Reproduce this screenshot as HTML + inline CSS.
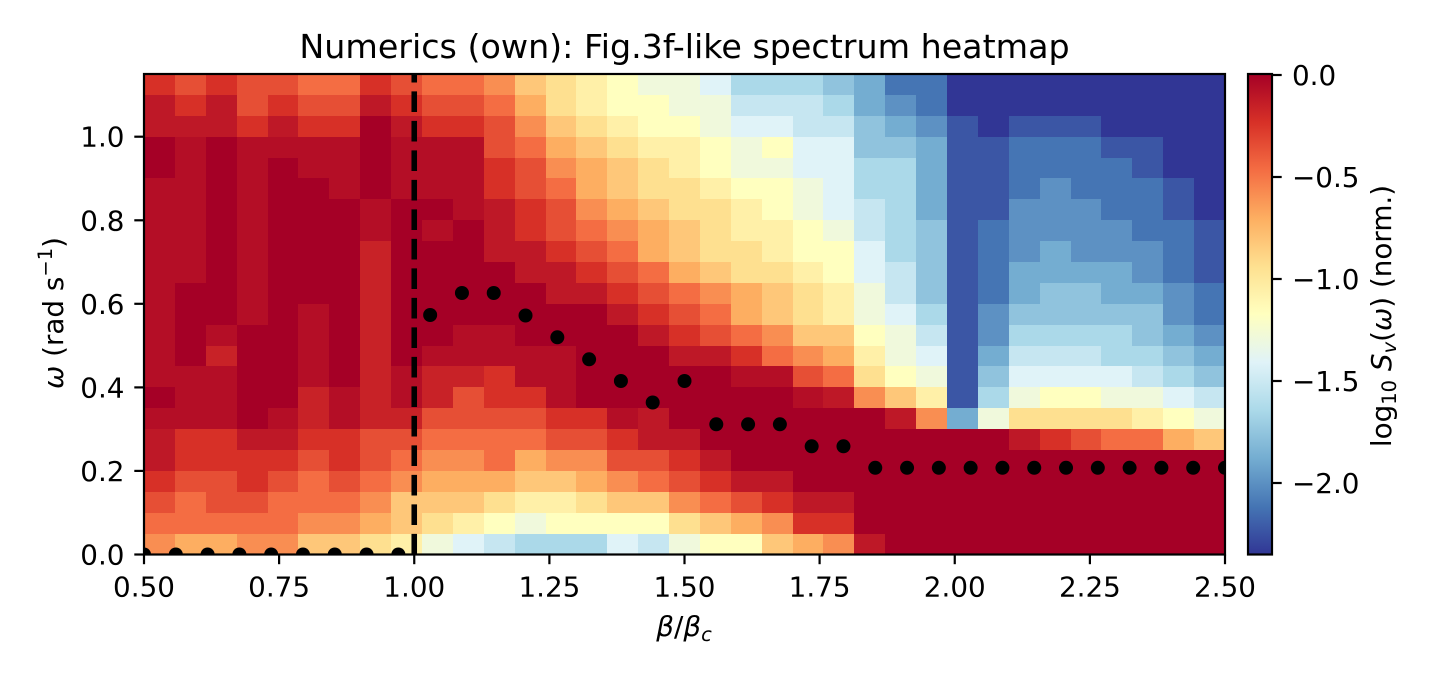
<!DOCTYPE html>
<html><head><meta charset="utf-8">
<style>
html,body{margin:0;padding:0;background:#fff;}
svg{display:block;}
text{font-family:"DejaVu Sans","Liberation Sans",sans-serif;fill:#000;}
</style></head>
<body>
<svg id="s" width="1440" height="680" viewBox="0 0 1440 680" xmlns="http://www.w3.org/2000/svg">
<defs>
<linearGradient id="cb" x1="0" y1="1" x2="0" y2="0">
<stop offset="0" stop-color="#313695"/>
<stop offset="0.1" stop-color="#4575b4"/>
<stop offset="0.2" stop-color="#74add1"/>
<stop offset="0.3" stop-color="#abd9e9"/>
<stop offset="0.4" stop-color="#e0f3f8"/>
<stop offset="0.5" stop-color="#ffffbf"/>
<stop offset="0.6" stop-color="#fee090"/>
<stop offset="0.7" stop-color="#fdae61"/>
<stop offset="0.8" stop-color="#f46d43"/>
<stop offset="0.9" stop-color="#d73027"/>
<stop offset="1" stop-color="#a50026"/>
</linearGradient>
<clipPath id="ax"><rect x="144" y="74" width="1081" height="480.5"/></clipPath>
</defs>
<rect x="0" y="0" width="1440" height="680" fill="#fff"/>
<g id="hm" shape-rendering="crispEdges"></g>
<line x1="414.25" y1="554.5" x2="414.25" y2="74" stroke="#000" stroke-width="5.56" stroke-dasharray="20.6 8.9"/>
<g id="dots" clip-path="url(#ax)"></g>
<rect x="144" y="74" width="1081" height="480.5" fill="none" stroke="#000" stroke-width="2.2"/>

<g stroke="#000" stroke-width="2.2">
<line x1="144" y1="554.5" x2="144" y2="564.2"/>
<line x1="279.1" y1="554.5" x2="279.1" y2="564.2"/>
<line x1="414.25" y1="554.5" x2="414.25" y2="564.2"/>
<line x1="549.4" y1="554.5" x2="549.4" y2="564.2"/>
<line x1="684.5" y1="554.5" x2="684.5" y2="564.2"/>
<line x1="819.6" y1="554.5" x2="819.6" y2="564.2"/>
<line x1="954.75" y1="554.5" x2="954.75" y2="564.2"/>
<line x1="1089.9" y1="554.5" x2="1089.9" y2="564.2"/>
<line x1="1225" y1="554.5" x2="1225" y2="564.2"/>
<line x1="134.3" y1="554.5" x2="144" y2="554.5"/>
<line x1="134.3" y1="470.9" x2="144" y2="470.9"/>
<line x1="134.3" y1="387.4" x2="144" y2="387.4"/>
<line x1="134.3" y1="303.8" x2="144" y2="303.8"/>
<line x1="134.3" y1="220.3" x2="144" y2="220.3"/>
<line x1="134.3" y1="136.7" x2="144" y2="136.7"/>
</g>
<g font-size="27.8" text-anchor="middle">
<text x="144" y="596.5">0.50</text>
<text x="279.1" y="596.5">0.75</text>
<text x="414.25" y="596.5">1.00</text>
<text x="549.4" y="596.5">1.25</text>
<text x="684.5" y="596.5">1.50</text>
<text x="819.6" y="596.5">1.75</text>
<text x="954.75" y="596.5">2.00</text>
<text x="1089.9" y="596.5">2.25</text>
<text x="1225" y="596.5">2.50</text>
</g>
<g font-size="27.8" text-anchor="end">
<text x="124.5" y="564.5">0.0</text>
<text x="124.5" y="480.9">0.2</text>
<text x="124.5" y="397.4">0.4</text>
<text x="124.5" y="313.8">0.6</text>
<text x="124.5" y="230.3">0.8</text>
<text x="124.5" y="146.7">1.0</text>
</g>

<text x="684.5" y="58" font-size="33.3" text-anchor="middle">Numerics (own): Fig.3f-like spectrum heatmap</text>

<text x="684" y="636" font-size="27.8" text-anchor="middle"><tspan font-style="italic">β</tspan>/<tspan font-style="italic">β</tspan><tspan font-style="italic" font-size="19.5" dy="5">c</tspan></text>

<text transform="translate(63,313) rotate(-90)" font-size="27.8" text-anchor="middle"><tspan font-style="italic">ω</tspan> (rad s<tspan font-size="19.5" dy="-11">−1</tspan><tspan dy="11">)</tspan></text>

<rect x="1248" y="74" width="24" height="480.5" fill="url(#cb)"/>
<rect x="1248" y="74" width="24" height="480.5" fill="none" stroke="#000" stroke-width="2.2"/>
<g stroke="#000" stroke-width="2.2">
<line x1="1272" y1="75" x2="1281.7" y2="75"/>
<line x1="1272" y1="177" x2="1281.7" y2="177"/>
<line x1="1272" y1="279" x2="1281.7" y2="279"/>
<line x1="1272" y1="381" x2="1281.7" y2="381"/>
<line x1="1272" y1="483" x2="1281.7" y2="483"/>
</g>
<g font-size="27.8">
<text x="1292" y="85">0.0</text>
<text x="1292" y="187">−0.5</text>
<text x="1292" y="289">−1.0</text>
<text x="1292" y="391">−1.5</text>
<text x="1292" y="493">−2.0</text>
</g>
<text transform="translate(1391,316) rotate(-90)" font-size="27.8" text-anchor="middle">log<tspan font-size="19.5" dy="5">10</tspan><tspan dy="-5"> </tspan><tspan font-style="italic">S</tspan><tspan font-style="italic" font-size="19.5" dy="5">v</tspan><tspan dy="-5">(</tspan><tspan font-style="italic">ω</tspan>) (norm.)</text>
</svg>
<script>
(function(){
var P=[[49,54,149],[69,117,180],[116,173,209],[171,217,233],[224,243,248],[255,255,191],[254,224,144],[253,174,97],[244,109,67],[215,48,39],[165,0,38]];
function col(t){t=Math.max(0,Math.min(1,t));var f=t*10,i=Math.min(9,Math.floor(f)),r=f-i;var a=P[i],b=P[i+1];
var c=[0,1,2].map(function(k){return Math.round(a[k]+(b[k]-a[k])*r);});return 'rgb('+c.join(',')+')';}
var G=[
"srsrrqqsrqq"+"p"+"nmlkjjigggf"+"eccaaaaaaaaa",
"tstrsrrtsrr"+"q"+"omlkkjjhhhg"+"edcaaaaaaaaa",
"tttstssutss"+"r"+"pnmlkkjiihh"+"fedbabbbaaaa",
"uTuTTTTuTTT"+"r"+"qonmllkjkii"+"ffebbcccbbaa",
"uTuTuTTuTTT"+"s"+"rponmlkjjii"+"ggebbccccbaa",
"TTuTuuTuTTT"+"s"+"rqonmmlkkji"+"ggebbcdcccba",
"TTuTuuuTuuT"+"t"+"srponmmlkji"+"hgebbdddccba",
"TTuTuuuTuTu"+"t"+"srqponmllkj"+"hgfbcddddccb",
"TTuTuuuSuuu"+"t"+"tsrqonmmlkk"+"igfbcdedddcb",
"TTuTuuuSuuu"+"u"+"ttsrqonmmlk"+"ihfbceeeedcb",
"TuuTuuuSuuu"+"u"+"uttsrqponml"+"jhfbceffeedc",
"TuuTuTuSuuu"+"u"+"uuutsrqonml"+"jigbdfffffdc",
"TuTuuTuSuuT"+"T"+"uuuutsrqpnn"+"kjhbdggggfed",
"TuSuuTuSuTT"+"T"+"TTuuuttsqpo"+"ljibehhhggfe",
"TTTuuTuSTSS"+"s"+"TTuuuuuTTrq"+"mkjbfiiiihgf",
"uTTuuSTSTSr"+"s"+"sTuuuuuuuTt"+"pnlbgjkkjjih",
"TTTuTSTSSrr"+"r"+"rssTtuuuuuu"+"utpejmmmmlkj",
"tssttssrrqq"+"q"+"qrrsttuuuuu"+"uuuuutsrqqon",
"tssssrsrqpp"+"q"+"opprrstuuuu"+"uuuuuuuuuuuu",
"srrsrqrqpoo"+"o"+"nnopqrsttuu"+"uuuuuuuuuuuu",
"rqrrqqqpnnn"+"m"+"llmnnpqrstt"+"uuuuuuuuuuuu",
"qqqqqpponml"+"k"+"jkkkkmnopss"+"uuuuuuuuuuuu",
"pooppnnmlji"+"h"+"gggihjkknop"+"tuuuuuuuuuuu"
];
function lv(ch){if(ch==='T')return 0.97;if(ch==='S')return 0.93;var c=ch.charCodeAt(0);if(isNaN(c))return 1;return (c-97)/20;}
var ns='http://www.w3.org/2000/svg',g=document.getElementById('hm');
for(var j=0;j<23;j++){
 var y0=Math.round(74+j*480.5/23),y1=Math.round(74+(j+1)*480.5/23);
 for(var i=0;i<35;i++){
  var x0=Math.round(144+i*1081/35),x1=Math.round(144+(i+1)*1081/35);
  var t=lv(G[j].charAt(i)||'u');
  var r=document.createElementNS(ns,'rect');
  r.setAttribute('x',x0);r.setAttribute('y',y0);
  r.setAttribute('width',x1-x0);r.setAttribute('height',y1-y0);
  r.setAttribute('fill',col(t));g.appendChild(r);
 }
}
var Y=[554.5,554.5,554.5,554.5,554.5,554.5,554.5,554.5,554.5,315,293,293,315.5,337.3,359.3,381,402.5,381,424.3,424.3,424.3,446.3,446.3];
for(var k=23;k<35;k++)Y.push(467.8);
var d=document.getElementById('dots');
for(var i=0;i<35;i++){
 var c=document.createElementNS(ns,'circle');
 c.setAttribute('cx',(144+i*31.794).toFixed(2));c.setAttribute('cy',Y[i]);
 c.setAttribute('r',7);c.setAttribute('fill','#000');d.appendChild(c);
}
})();
</script>
</body></html>
